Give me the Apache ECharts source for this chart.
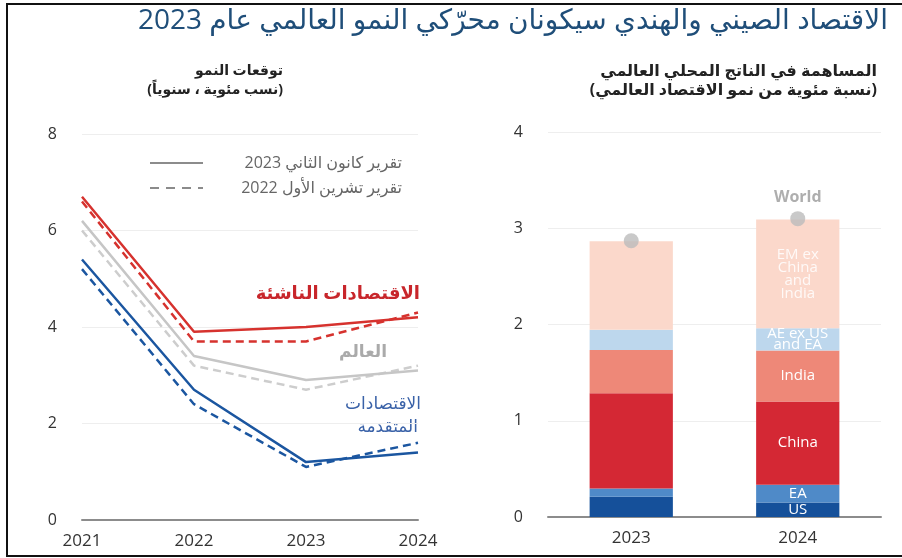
<!DOCTYPE html>
<html>
<head>
<meta charset="utf-8">
<script src="https://cdn.jsdelivr.net/npm/echarts@6/dist/echarts.min.js"></script>
<style>
  html, body { margin: 0; padding: 0; background: #fff; }
  #main { width: 902px; height: 558px; }
</style>
</head>
<body>
<div id="main"></div>
<script>
// توقعات النمو
var years = ["2021", "2022", "2023", "2024"];
var emJan23 = [6.7, 3.9, 4.0, 4.2];
var emOct22 = [6.6, 3.7, 3.7, 4.3];
var worldJan23 = [6.2, 3.4, 2.9, 3.1];
var worldOct22 = [6.0, 3.2, 2.7, 3.2];
var aeJan23 = [5.4, 2.7, 1.2, 1.4];
var aeOct22 = [5.2, 2.4, 1.1, 1.6];

// المساهمة في الناتج المحلي العالمي
var barYears = ["2023", "2024"];
var us = [0.21, 0.15];
var ea = [0.085, 0.185];
var china = [0.99, 0.865];
var india = [0.45, 0.53];
var aeExUs = [0.21, 0.23];
var emEx = [0.92, 1.13];
var world = [2.87, 3.1];

var barNames = ["US", "EA", "China", "India", "AE ex US\nand EA", "EM ex\nChina\nand\nIndia"];
var barData = [us, ea, china, india, aeExUs, emEx];
var barColors = ["#15509a", "#4f8ac8", "#d42834", "#ee8878", "#bdd7ed", "#fbd8cb"];

var font = "'Open Sans', 'DejaVu Sans', sans-serif";

var myChart = echarts.init(document.getElementById("main"));

function lineSeries(name, data, color, dashed) {
  return {
    name: name,
    type: "line",
    xAxisIndex: 0,
    yAxisIndex: 0,
    data: data,
    symbol: "none",
    lineStyle: { color: color, width: 2.5, type: dashed ? [8, 5] : "solid" },
    z: dashed ? 2 : 3
  };
}

var series = [
  lineSeries("worldOct", worldOct22, "#cdcdcd", true),
  lineSeries("world", worldJan23, "#c6c6c6", false),
  lineSeries("aeOct", aeOct22, "#1b56a0", true),
  lineSeries("ae", aeJan23, "#1b56a0", false),
  lineSeries("emOct", emOct22, "#d6322e", true),
  lineSeries("em", emJan23, "#d6322e", false)
];

barData.forEach(function (vals, i) {
  series.push({
    name: barNames[i],
    type: "bar",
    stack: "gdp",
    xAxisIndex: 1,
    yAxisIndex: 1,
    barWidth: "50%",
    itemStyle: { color: barColors[i] },
    data: vals.map(function (v, j) {
      return {
        value: v,
        label: {
          show: j === 1,
          formatter: barNames[i],
          color: i === 5 ? "rgba(255,255,255,0.85)" : "#fff",
          fontSize: 15,
          lineHeight: i === 4 ? 11 : 13,
          fontWeight: 500,
          fontFamily: font
        }
      };
    })
  });
});

series.push({
  name: "World",
  type: "scatter",
  xAxisIndex: 1,
  yAxisIndex: 1,
  symbolSize: 15,
  itemStyle: { color: "#bcbcbc" },
  z: 5,
  data: world.map(function (v, j) {
    return {
      value: v,
      label: { show: j === 1, position: "top", distance: 6, formatter: "World", color: "#9a9a9a", fontSize: 16, fontWeight: "bold", fontFamily: font }
    };
  })
});

var option = {
  animation: false,
  backgroundColor: "#fff",
  textStyle: { fontFamily: font },
  grid: [
    { left: 82, right: 484, top: 134, bottom: 38 },
    { left: 548, right: 21, top: 132, bottom: 41 }
  ],
  xAxis: [
    {
      type: "category", gridIndex: 0, data: years, boundaryGap: false,
      axisLine: { lineStyle: { color: "#8c8c8c", width: 2 } },
      axisTick: { show: false },
      axisLabel: { color: "#333", fontSize: 17, margin: 13 }
    },
    {
      type: "category", gridIndex: 1, data: barYears,
      axisLine: { lineStyle: { color: "#8c8c8c", width: 2 } },
      axisTick: { show: false },
      axisLabel: { color: "#333", fontSize: 17, margin: 13 }
    }
  ],
  yAxis: [
    {
      type: "value", gridIndex: 0, min: 0, max: 8, interval: 2,
      axisLine: { show: false }, axisTick: { show: false },
      axisLabel: { color: "#333", fontSize: 16, margin: 25 },
      splitLine: { lineStyle: { color: "#eeeeee" } }
    },
    {
      type: "value", gridIndex: 1, min: 0, max: 4, interval: 1,
      axisLine: { show: false }, axisTick: { show: false },
      axisLabel: { color: "#333", fontSize: 16, margin: 25 },
      splitLine: { lineStyle: { color: "#eeeeee" } }
    }
  ],
  title: [
    {
      text: "الاقتصاد الصيني والهندي سيكونان محرّكي النمو العالمي عام 2023",
      right: 9, top: 2,
      textStyle: { color: "#1f4e79", fontSize: 28, fontWeight: "normal" }
    },
    {
      text: "توقعات النمو\n(نسب مئوية ، سنوياً)",
      left: 278, top: 57, textAlign: "right",
      textStyle: { color: "#222", fontSize: 14, fontWeight: "bold", lineHeight: 19, align: "right" }
    },
    {
      text: "المساهمة في الناتج المحلي العالمي\n(نسبة مئوية من نمو الاقتصاد العالمي)",
      left: 872, top: 57, textAlign: "right",
      textStyle: { color: "#222", fontSize: 16, fontWeight: "bold", lineHeight: 19, align: "right" }
    }
  ],
  graphic: [
    // الإطار
    { type: "rect", shape: { x: 7, y: 4, width: 900, height: 552 }, style: { fill: "none", stroke: "#111", lineWidth: 2 }, z: 10 },
    // مفتاح الرسم
    { type: "line", shape: { x1: 150, y1: 163, x2: 203, y2: 163 }, style: { stroke: "#666", lineWidth: 1.5 } },
    { type: "line", shape: { x1: 150, y1: 188, x2: 203, y2: 188 }, style: { stroke: "#666", lineWidth: 1.5, lineDash: [9, 7] } },
    { type: "text", x: 402, y: 163, style: { text: "تقرير كانون الثاني 2023", fill: "#666", font: "16px " + font, textAlign: "right", textVerticalAlign: "middle" } },
    { type: "text", x: 402, y: 188, style: { text: "تقرير تشرين الأول 2022", fill: "#666", font: "16px " + font, textAlign: "right", textVerticalAlign: "middle" } },
    // أسماء السلاسل
    { type: "text", x: 420, y: 294, style: { text: "الاقتصادات الناشئة", fill: "#c8262b", font: "bold 18px " + font, textAlign: "right", textVerticalAlign: "middle" } },
    { type: "text", x: 387, y: 352, style: { text: "العالم", fill: "#aaaaaa", font: "bold 17px " + font, textAlign: "right", textVerticalAlign: "middle" } },
    { type: "text", x: 421, y: 404, style: { text: "الاقتصادات", fill: "#3a62a8", font: "17px " + font, textAlign: "right", textVerticalAlign: "middle" } },
    { type: "text", x: 418, y: 427, style: { text: "المتقدمة", fill: "#3a62a8", font: "17px " + font, textAlign: "right", textVerticalAlign: "middle" } }
  ],
  series: series
};

myChart.setOption(option);
</script>
</body>
</html>
